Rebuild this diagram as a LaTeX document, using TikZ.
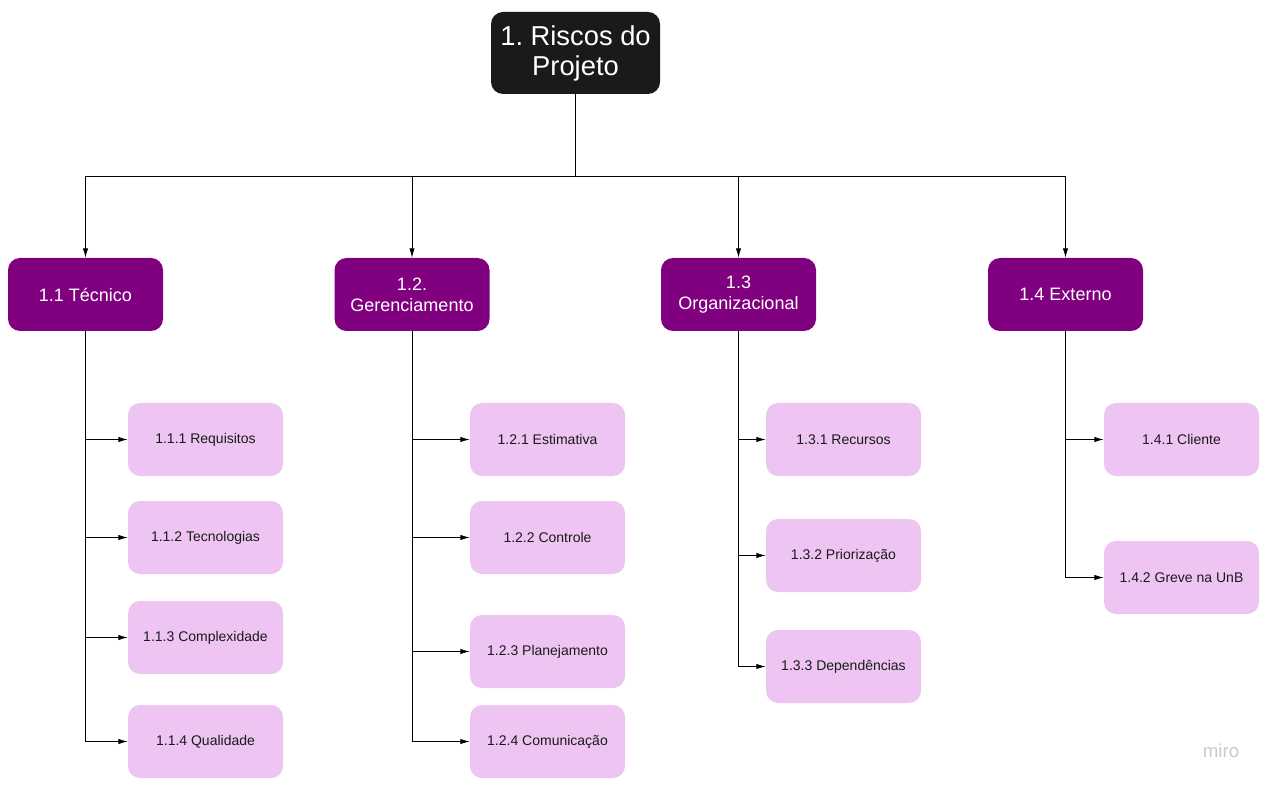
\documentclass[tikz,border=0pt]{standalone}
\usepackage{fontspec}
\setmainfont{Liberation Sans}
\usepackage{xcolor}
\usetikzlibrary{arrows.meta}
\frenchspacing

\definecolor{rootgray}{HTML}{1A1A1A}
\definecolor{areapurple}{HTML}{800080}
\definecolor{itemlilac}{HTML}{EEC4F2}
\definecolor{mirogray}{HTML}{C8C8D8}

\tikzset{
  rootbox/.style={fill=rootgray, text=white, rounded corners=9pt, minimum width=126.75pt, minimum height=61.5pt, align=center, font=\fontsize{20.5}{22.5}\selectfont},
  areabox/.style={fill=areapurple, text=white, rounded corners=9pt, minimum width=116.25pt, minimum height=54.75pt, align=center, font=\fontsize{13.5}{15.5}\selectfont},
  itembox/.style={fill=itemlilac, text=rootgray, rounded corners=9pt, minimum width=116.25pt, minimum height=54.75pt, align=center, font=\fontsize{10.5}{12.5}\selectfont},
  link/.style={-{Latex[length=7pt,width=4pt]}, line width=0.6pt},
}

\begin{document}
\begin{tikzpicture}[x=0.75pt,y=-0.75pt]
\useasboundingbox (0,0) rectangle (1270,787);

\node[rootbox] (riscos) at (575.5,53) {1. Riscos do\\Projeto};

\node[areabox] (tec) at (85.5,294.5) {1.1 Técnico};
\node[areabox] (ger) at (412,294.5) {1.2.\\Gerenciamento};
\node[areabox] (org) at (738.5,294.5) {1.3\\Organizacional};
\node[areabox] (ext) at (1065.5,294.5) {1.4 Externo};

\node[itembox] (req) at (205.5,439.5) {1.1.1 Requisitos};
\node[itembox] (tecn) at (205.5,537.5) {1.1.2 Tecnologias};
\node[itembox] (compl) at (205.5,637.5) {1.1.3 Complexidade};
\node[itembox] (qual) at (205.5,741.5) {1.1.4 Qualidade};

\node[itembox] (est) at (547.5,439.5) {1.2.1 Estimativa};
\node[itembox] (contr) at (547.5,537.5) {1.2.2 Controle};
\node[itembox] (plan) at (547.5,651.5) {1.2.3 Planejamento};
\node[itembox] (com) at (547.5,741.5) {1.2.4 Comunicação};

\node[itembox] (rec) at (843.5,439.5) {1.3.1 Recursos};
\node[itembox] (prio) at (843.5,555.5) {1.3.2 Priorização};
\node[itembox] (dep) at (843.5,666.5) {1.3.3 Dependências};

\node[itembox] (cli) at (1181.5,439.5) {1.4.1 Cliente};
\node[itembox] (greve) at (1181.5,577.5) {1.4.2 Greve na UnB};

\coordinate (bus) at (575.5,176);
\draw[line width=0.6pt] (riscos) -- (bus);
\draw[link] (bus) -| (tec);
\draw[link] (bus) -| (ger);
\draw[link] (bus) -| (org);
\draw[link] (bus) -| (ext);

\foreach \p/\c in {tec/req, tec/tecn, tec/compl, tec/qual,
                   ger/est, ger/contr, ger/plan, ger/com,
                   org/rec, org/prio, org/dep,
                   ext/cli, ext/greve}
  \draw[link] (\p.south) |- (\c.west);

\node[text=mirogray, font=\fontsize{14}{14}\selectfont] (miro) at (1221,751) {miro};
\end{tikzpicture}
\end{document}
